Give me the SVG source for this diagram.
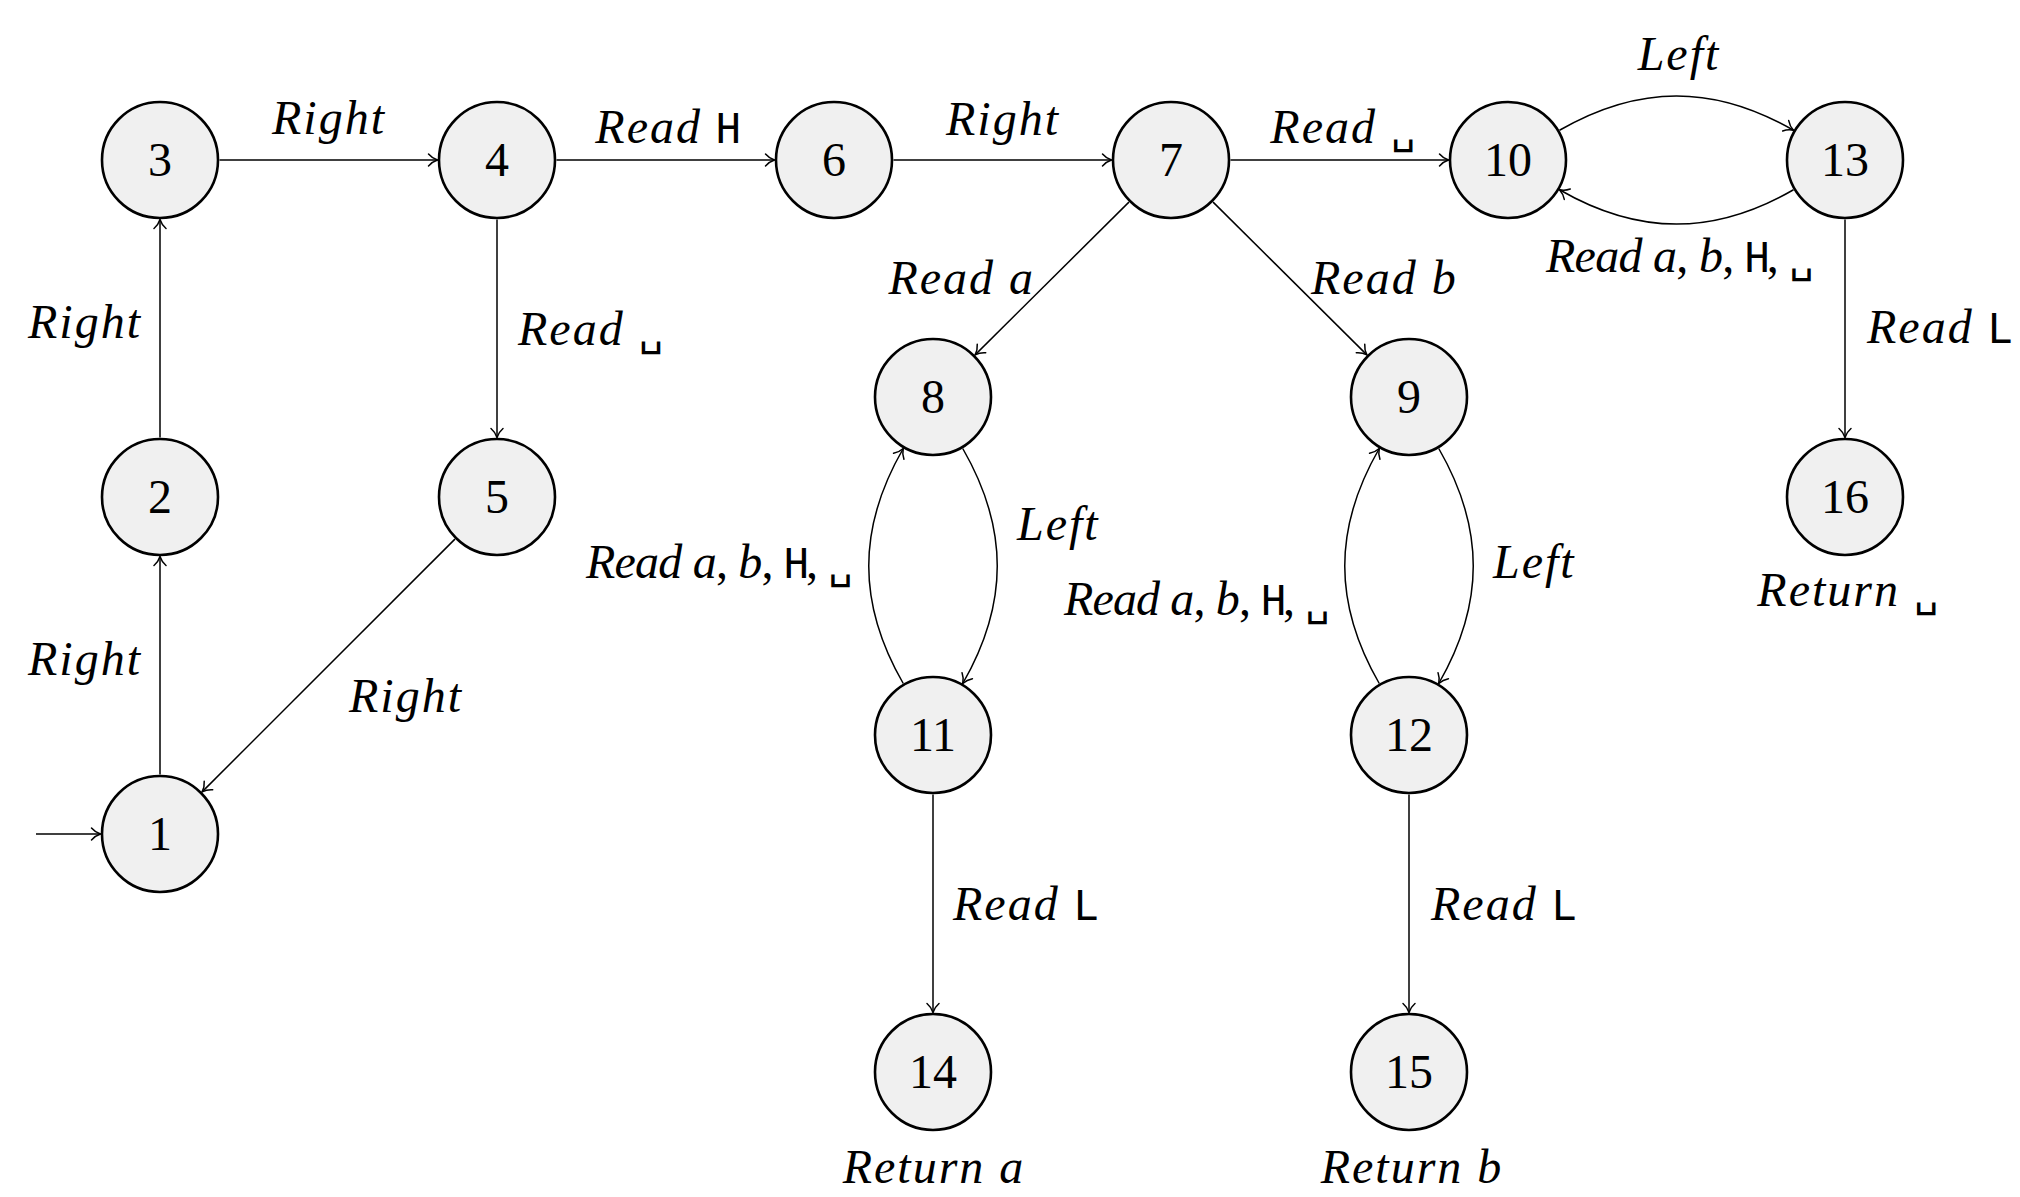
<svg xmlns="http://www.w3.org/2000/svg" width="2020" height="1197" viewBox="0 0 2020 1197">
  <style>
    .state circle { fill: #f0f0f0; stroke: #000; stroke-width: 2.6; }
    .state text { font-family: "Liberation Serif", "DejaVu Serif", serif; font-size: 48px; text-anchor: middle; fill: #000; }
    .edge { fill: none; stroke: #000; stroke-width: 1.5; marker-end: url(#tip); }
    .lbl { font-family: "Liberation Serif", "DejaVu Serif", serif; font-style: italic; font-size: 48px; letter-spacing: 2px; fill: #000; }
    .tt { font-family: "DejaVu Sans Mono", "Liberation Mono", monospace; font-style: normal; font-size: 41px; letter-spacing: 0; }
    .up { font-style: normal; }
    .mid { text-anchor: middle; }
    .end { text-anchor: end; }
  </style>
  <defs>
    <marker id="tip" viewBox="-12 -8 14 16" markerWidth="14" markerHeight="16" refX="0" refY="0" orient="auto" markerUnits="userSpaceOnUse">
      <path d="M-9,-6 C-6,-2.5 -2.5,-0.8 0,0 C-2.5,0.8 -6,2.5 -9,6" fill="none" stroke="#000" stroke-width="1.5" stroke-linecap="round"/>
    </marker>
  </defs>

  <rect width="2020" height="1197" fill="#fff"/>

  <!-- transitions -->
  <g id="edges">
    <path class="edge" d="M36,834 H100.5"/>
    <path class="edge" d="M160,774.5 V556.5"/>
    <path class="edge" d="M160,437.5 V219.5"/>
    <path class="edge" d="M219.5,160 H437.5"/>
    <path class="edge" d="M556.5,160 H774.5"/>
    <path class="edge" d="M893.5,160 H1111.5"/>
    <path class="edge" d="M1230.5,160 H1448.5"/>
    <path class="edge" d="M497,219.5 V437.5"/>
    <path class="edge" d="M454.9,539.1 L202.1,791.9"/>
    <path class="edge" d="M1128.9,202.1 L975.1,354.9"/>
    <path class="edge" d="M1213.1,202.1 L1366.9,354.9"/>
    <path class="edge" d="M1559.5,130.25 C1638.8,84.45 1714.2,84.45 1793.5,130.25"/>
    <path class="edge" d="M1793.5,189.75 C1714.2,235.55 1638.8,235.55 1559.5,189.75"/>
    <path class="edge" d="M1845,219.5 V437.5"/>
    <path class="edge" d="M962.75,448.5 C1008.75,528.2 1008.75,603.8 962.75,683.5"/>
    <path class="edge" d="M903.25,683.5 C857.25,603.8 857.25,528.2 903.25,448.5"/>
    <path class="edge" d="M1438.75,448.5 C1484.75,528.2 1484.75,603.8 1438.75,683.5"/>
    <path class="edge" d="M1379.25,683.5 C1333.25,603.8 1333.25,528.2 1379.25,448.5"/>
    <path class="edge" d="M933,794.5 V1012.5"/>
    <path class="edge" d="M1409,794.5 V1012.5"/>
  </g>

  <!-- transition labels -->
  <g id="edge-labels">
    <text class="lbl mid" x="329" y="134">Right</text>
    <text class="lbl end" x="142" y="338">Right</text>
    <text class="lbl end" x="142" y="675">Right</text>
    <text class="lbl" x="349" y="712">Right</text>
    <text class="lbl mid" x="668" y="143">Read <tspan class="tt">H</tspan></text>
    <text class="lbl" x="518" y="345">Read <tspan class="tt">␣</tspan></text>
    <text class="lbl mid" x="1003" y="135">Right</text>
    <text class="lbl mid" x="1343" y="143">Read <tspan class="tt">␣</tspan></text>
    <text class="lbl end" x="1035" y="294">Read a</text>
    <text class="lbl" x="1311" y="294">Read b</text>
    <text class="lbl mid" x="1679" y="70">Left</text>
    <text class="lbl" x="1546" y="272" textLength="268" lengthAdjust="spacing">Read a<tspan class="up">,</tspan> b<tspan class="up">,</tspan> <tspan class="tt">H</tspan><tspan class="up">,</tspan> <tspan class="tt">␣</tspan></text>
    <text class="lbl" x="1867" y="343">Read <tspan class="tt">L</tspan></text>
    <text class="lbl" x="586" y="578" textLength="267" lengthAdjust="spacing">Read a<tspan class="up">,</tspan> b<tspan class="up">,</tspan> <tspan class="tt">H</tspan><tspan class="up">,</tspan> <tspan class="tt">␣</tspan></text>
    <text class="lbl" x="1017" y="540">Left</text>
    <text class="lbl" x="1064" y="615" textLength="266" lengthAdjust="spacing">Read a<tspan class="up">,</tspan> b<tspan class="up">,</tspan> <tspan class="tt">H</tspan><tspan class="up">,</tspan> <tspan class="tt">␣</tspan></text>
    <text class="lbl" x="1493" y="578">Left</text>
    <text class="lbl" x="953" y="920">Read <tspan class="tt">L</tspan></text>
    <text class="lbl" x="1431" y="920">Read <tspan class="tt">L</tspan></text>
  </g>

  <!-- states -->
  <g id="node-1" class="state"><circle cx="160" cy="834" r="58"/><text x="160" y="850">1</text></g>
  <g id="node-2" class="state"><circle cx="160" cy="497" r="58"/><text x="160" y="513">2</text></g>
  <g id="node-3" class="state"><circle cx="160" cy="160" r="58"/><text x="160" y="176">3</text></g>
  <g id="node-4" class="state"><circle cx="497" cy="160" r="58"/><text x="497" y="176">4</text></g>
  <g id="node-5" class="state"><circle cx="497" cy="497" r="58"/><text x="497" y="513">5</text></g>
  <g id="node-6" class="state"><circle cx="834" cy="160" r="58"/><text x="834" y="176">6</text></g>
  <g id="node-7" class="state"><circle cx="1171" cy="160" r="58"/><text x="1171" y="176">7</text></g>
  <g id="node-8" class="state"><circle cx="933" cy="397" r="58"/><text x="933" y="413">8</text></g>
  <g id="node-9" class="state"><circle cx="1409" cy="397" r="58"/><text x="1409" y="413">9</text></g>
  <g id="node-10" class="state"><circle cx="1508" cy="160" r="58"/><text x="1508" y="176">10</text></g>
  <g id="node-11" class="state"><circle cx="933" cy="735" r="58"/><text x="933" y="751">11</text></g>
  <g id="node-12" class="state"><circle cx="1409" cy="735" r="58"/><text x="1409" y="751">12</text></g>
  <g id="node-13" class="state"><circle cx="1845" cy="160" r="58"/><text x="1845" y="176">13</text></g>
  <g id="node-14" class="state">
    <circle cx="933" cy="1072" r="58"/><text x="933" y="1088">14</text>
    <text class="lbl mid" x="934" y="1183" style="font-family:'Liberation Serif','DejaVu Serif',serif;font-style:italic;">Return a</text>
  </g>
  <g id="node-15" class="state">
    <circle cx="1409" cy="1072" r="58"/><text x="1409" y="1088">15</text>
    <text class="lbl mid" x="1412" y="1183" style="font-family:'Liberation Serif','DejaVu Serif',serif;font-style:italic;">Return b</text>
  </g>
  <g id="node-16" class="state">
    <circle cx="1845" cy="497" r="58"/><text x="1845" y="513">16</text>
    <text class="lbl mid" x="1848" y="606" style="font-family:'Liberation Serif','DejaVu Serif',serif;font-style:italic;">Return <tspan class="tt" style="font-family:'DejaVu Sans Mono','Liberation Mono',monospace;font-style:normal;font-size:41px;">␣</tspan></text>
  </g>
</svg>
